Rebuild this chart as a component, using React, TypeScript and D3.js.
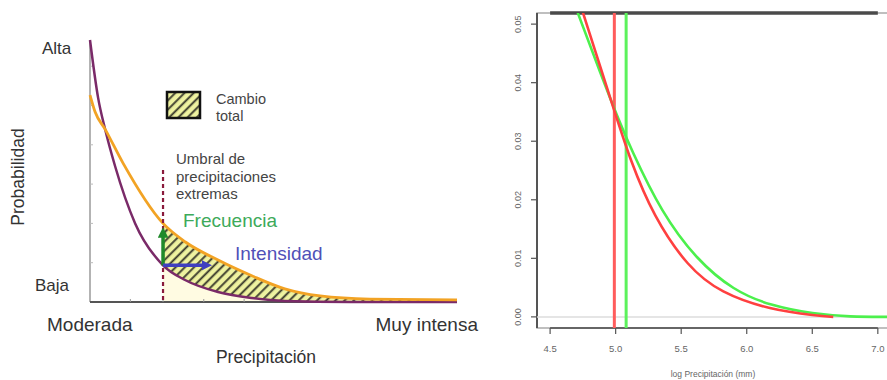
import React from "react";
import * as d3 from "d3";

// ---- left panel: conceptual curves ----
const purpleX = [0, 0.22, 0.41, 0.68, 1.23, 1.99, 2.59, 3.49, 4.41, 5.31, 7.08, 10];
const purpleY = [1.0, 0.78, 0.66, 0.52, 0.3, 0.14, 0.084, 0.038, 0.015, 0.004, 0, 0];
const orangeX = [0, 0.14, 0.41, 0.9, 1.99, 2.59, 3.49, 4.41, 5.31, 6.27, 7.63, 10];
const orangeY = [0.79, 0.725, 0.66, 0.53, 0.3, 0.23, 0.16, 0.1, 0.05, 0.023, 0.011, 0.008];
const threshold = 1.99;
const intensityEnd = 3.4;
const leftTicksX = [1.1, 1.99, 3.1, 4.2];
const leftTicksY = [0.15, 0.3, 0.45, 0.6, 0.75, 0.9];

// ---- right panel: fitted densities ----
const redX = [4.75, 4.98, 5.11, 5.29, 5.55, 5.8, 6.18, 6.54, 6.66];
const redY = [0.052, 0.0359, 0.0268, 0.0171, 0.0085, 0.0041, 0.0012, 0.0002, 0.0];
const greenX = [4.71, 4.98, 5.12, 5.35, 5.62, 5.9, 6.18, 6.51, 6.79, 7.07];
const greenY = [0.052, 0.0359, 0.0285, 0.0178, 0.0097, 0.0045, 0.0019, 0.0005, 0.0, 0.0];
const redMark = 4.99;
const greenMark = 5.08;
const xTicks = [4.5, 5.0, 5.5, 6.0, 6.5, 7.0];
const yTicks = [0, 0.01, 0.02, 0.03, 0.04, 0.05];

const font = "'Liberation Sans', Arial, sans-serif";

export default function App() {
  // left scales
  const lx = d3.scaleLinear().domain([0, 10]).range([90, 457]);
  const ly = d3.scaleLinear().domain([0, 1]).range([302, 40]);

  const purple = purpleX.map((x, i) => [x, purpleY[i]] as [number, number]);
  const orange = orangeX.map((x, i) => [x, orangeY[i]] as [number, number]);

  const line = d3.line<[number, number]>()
    .x(d => lx(d[0]))
    .y(d => ly(d[1]))
    .curve(d3.curveMonotoneX);
  const under = d3.area<[number, number]>()
    .x(d => lx(d[0]))
    .y0(ly(0))
    .y1(d => ly(d[1]))
    .curve(d3.curveMonotoneX);

  const thrX = lx(threshold);
  const yOrangeThr = ly(0.3);
  const yPurpleThr = ly(0.14);

  // right scales
  const rx = d3.scaleLinear().domain([4.4, 7.07]).range([537, 887]);
  const ry = d3.scaleLinear().domain([-0.0019, 0.0519]).range([328, 13]);
  const rline = d3.line<[number, number]>()
    .x(d => rx(d[0]))
    .y(d => ry(d[1]))
    .curve(d3.curveBasis);
  const red = redX.map((x, i) => [x, redY[i]] as [number, number]);
  const green = greenX.map((x, i) => [x, greenY[i]] as [number, number]);

  return (
    <svg width={887} height={380} style={{ position: "absolute", left: 0, top: 0, background: "#fff" }}
      fontFamily={font}>
      <defs>
        <pattern id="hatch" patternUnits="userSpaceOnUse" width={6.5} height={6.5}
          patternTransform="rotate(45)">
          <rect width={6.5} height={6.5} fill="#eef2a0" />
          <line x1={1.2} y1={0} x2={1.2} y2={6.5} stroke="#3a3a2c" strokeWidth={1.9} />
        </pattern>
        <clipPath id="rightOfThr">
          <rect x={thrX} y={0} width={400} height={310} />
        </clipPath>
        <clipPath id="rplot">
          <rect x={537} y={13} width={350} height={315} />
        </clipPath>
        <marker id="headG" viewBox="0 0 10 10" refX={5} refY={5} markerWidth={3} markerHeight={3} orient="auto">
          <path d="M0,0 L10,5 L0,10 z" fill="#1f8a2a" />
        </marker>
        <marker id="headB" viewBox="0 0 10 10" refX={5} refY={5} markerWidth={3} markerHeight={3} orient="auto">
          <path d="M0,0 L10,5 L0,10 z" fill="#3f3fc0" />
        </marker>
      </defs>

      {/* ===== left panel ===== */}
      <g clipPath="url(#rightOfThr)">
        <path d={under(orange) || ""} fill="url(#hatch)" />
        <path d={under(purple) || ""} fill="#fffbe2" />
      </g>

      {/* axes */}
      <line x1={90} x2={90} y1={40} y2={302} stroke="#9a9a9a" strokeWidth={1.5} />
      <line x1={90} x2={457} y1={302} y2={302} stroke="#555" strokeWidth={2} />
      {leftTicksY.map(t => (
        <line key={"ly" + t} x1={90} x2={93} y1={ly(t)} y2={ly(t)} stroke="#bbb" strokeWidth={1} />
      ))}
      {leftTicksX.map(t => (
        <line key={"lx" + t} x1={lx(t)} x2={lx(t)} y1={299} y2={302} stroke="#999" strokeWidth={1} />
      ))}

      {/* curves */}
      <path d={line(purple) || ""} fill="none" stroke="#7a2a68" strokeWidth={2.5} />
      <path d={line(orange) || ""} fill="none" stroke="#f2a324" strokeWidth={2.8} />

      {/* threshold */}
      <line x1={thrX} x2={thrX} y1={170} y2={302} stroke="#8a1a3c" strokeWidth={2.2} strokeDasharray="4,3" />

      {/* arrows */}
      <line x1={thrX} x2={thrX} y1={yPurpleThr} y2={yOrangeThr + 9} stroke="#1f8a2a" strokeWidth={3.5}
        markerEnd="url(#headG)" />
      <line x1={thrX} x2={lx(intensityEnd) - 8} y1={yPurpleThr} y2={yPurpleThr} stroke="#3f3fc0" strokeWidth={3.5}
        markerEnd="url(#headB)" />

      {/* legend */}
      <rect x={167} y={92} width={33} height={26} fill="url(#hatch)" stroke="#111" strokeWidth={2.5} />
      <text x={216} y={104} fontSize={14.5} fill="#444">Cambio</text>
      <text x={216} y={121} fontSize={14.5} fill="#444">total</text>

      <text x={176} y={164} fontSize={15} fill="#444">Umbral de</text>
      <text x={176} y={182} fontSize={15} fill="#444">precipitaciones</text>
      <text x={176} y={199} fontSize={15} fill="#444">extremas</text>

      <text x={183} y={227} fontSize={19} fill="#3daa5a">Frecuencia</text>
      <text x={235} y={260} fontSize={19} fill="#5050b8">Intensidad</text>

      <text x={42} y={54} fontSize={17} fill="#333">Alta</text>
      <text x={35} y={291} fontSize={17} fill="#333">Baja</text>
      <text transform="translate(24,177) rotate(-90)" textAnchor="middle" fontSize={17.5} fill="#333">Probabilidad</text>
      <text x={47} y={331} fontSize={19} fill="#333">Moderada</text>
      <text x={478} y={331} textAnchor="end" fontSize={19} fill="#333">Muy intensa</text>
      <text x={266} y={363} textAnchor="middle" fontSize={17.5} fill="#333">Precipitación</text>

      {/* ===== right panel ===== */}
      <rect x={537} y={13} width={360} height={315} fill="none" stroke="#aaa" strokeWidth={1.5} />
      <line x1={537} x2={537} y1={13} y2={328} stroke="#555" strokeWidth={2} />
      <line x1={rx(4.5)} x2={rx(7.0)} y1={328} y2={328} stroke="#666" strokeWidth={2} />
      <line x1={rx(4.5)} x2={rx(7.0)} y1={ry(0.0519)} y2={ry(0.0519)} stroke="#4a4a4a" strokeWidth={3.5} />

      {yTicks.map(t => (
        <g key={"ry" + t}>
          <line x1={531} x2={537} y1={ry(t)} y2={ry(t)} stroke="#555" strokeWidth={1.2} />
          <text transform={`translate(521,${ry(t)}) rotate(-90)`} textAnchor="middle" fontSize={9} fill="#666">
            {d3.format(".2f")(t)}
          </text>
        </g>
      ))}
      {xTicks.map(t => (
        <g key={"rx" + t}>
          <line x1={rx(t)} x2={rx(t)} y1={328} y2={334} stroke="#555" strokeWidth={1.2} />
          <text x={rx(t)} y={352} textAnchor="middle" fontSize={9.5} fill="#666">{d3.format(".1f")(t)}</text>
        </g>
      ))}
      <text x={713} y={377} textAnchor="middle" fontSize={8.5} fill="#666">log Precipitación (mm)</text>

      <g clipPath="url(#rplot)">
        <line x1={537} x2={887} y1={ry(0)} y2={ry(0)} stroke="#ddd" strokeWidth={1.5} />
        <line x1={rx(redMark)} x2={rx(redMark)} y1={13} y2={328} stroke="#ff5c5c" strokeWidth={3} />
        <line x1={rx(greenMark)} x2={rx(greenMark)} y1={13} y2={328} stroke="#5cf25c" strokeWidth={3} />
        <path d={rline(green) || ""} fill="none" stroke="#4cf04c" strokeWidth={2.6} />
        <path d={rline(red) || ""} fill="none" stroke="#ff4040" strokeWidth={2.6} />
      </g>
    </svg>
  );
}
